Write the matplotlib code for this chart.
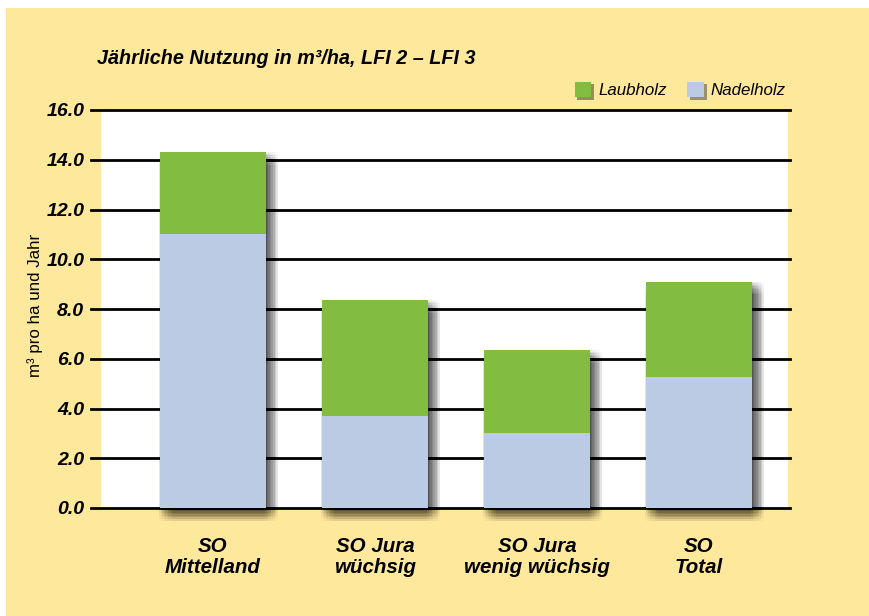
import numpy as np
import matplotlib.pyplot as plt
import matplotlib.patheffects as pe
from matplotlib.patches import Rectangle

plt.rcParams['font.family'] = ['Liberation Sans', 'DejaVu Sans']

# Werte (m3 pro ha und Jahr)
regionen = ['SO\nMittelland', 'SO Jura\nwüchsig', 'SO Jura\nwenig wüchsig', 'SO\nTotal']
nadelholz = [11.0, 3.7, 3.0, 5.25]
laubholz = [3.3, 4.65, 3.35, 3.85]
yticks = [0, 2, 4, 6, 8, 10, 12, 14, 16]

gruen = '#82BD41'
blau = '#BBCBE4'
gelb = '#FEE89B'

fig = plt.figure(figsize=(8.7, 6.16), dpi=100)
fig.patch.set_facecolor('white')
# gelber Hintergrund mit schmalem weissen Rand oben/links
fig.add_artist(Rectangle((6 / 870, 0), 1, 1 - 8 / 616, transform=fig.transFigure,
                         facecolor=gelb, edgecolor='none', zorder=-10))

ax = fig.add_axes([101 / 870, 1 - 508 / 616, 687 / 870, 398 / 616])
ax.set_facecolor('white')

x = np.arange(len(regionen))
breite = 0.655

# weicher Schatten aus vielen leicht versetzten Kopien
schatten = []
for dx in np.linspace(-4.5, 4.5, 9):
    for dy in np.linspace(-4.5, 4.5, 9):
        schatten.append(pe.SimplePatchShadow(offset=(4.0 + dx, -4.5 + dy),
                                             shadow_rgbFace='#000000', alpha=0.012, rho=0))
schatten.append(pe.Normal())

total = np.array(nadelholz) + np.array(laubholz)
ax.bar(x, total, breite, color=gruen, path_effects=schatten, clip_on=False, zorder=3)
ax.bar(x, laubholz, breite, bottom=nadelholz, color=gruen, label='Laubholz', zorder=4, clip_on=False)
ax.bar(x, nadelholz, breite, color=blau, label='Nadelholz', zorder=4, clip_on=False)

for t in yticks:
    ax.axhline(t, xmin=-10 / 687, xmax=1.003, color='black', lw=2, zorder=2, clip_on=False)

ax.set_xlim(-0.69, 3.55)
ax.set_ylim(0, 16)
ax.set_yticks(yticks)
ax.set_yticklabels(['%.1f' % t for t in yticks], fontsize=14, fontweight='bold', style='italic')
ax.set_xticks(x)
ax.set_xticklabels(regionen, fontsize=14.8, fontweight='bold', style='italic', linespacing=1.1)
ax.tick_params(axis='y', length=0, pad=12)
ax.tick_params(axis='x', length=0, pad=21)
for s in ax.spines.values():
    s.set_visible(False)

fig.text(35 / 870, 1 - 305 / 616, 'm³ pro ha und Jahr', fontsize=12.2, rotation=90,
         ha='center', va='center')

fig.text(97 / 870, 1 - 58 / 616, 'Jährliche Nutzung in m³/ha, LFI 2 – LFI 3',
         fontsize=14.2, fontweight='bold', style='italic', va='center')

leg = ax.legend(ncol=2, loc='lower right', bbox_to_anchor=(0.997, 1.03), frameon=False,
                prop={'style': 'italic', 'size': 12.2}, handlelength=1.0, handleheight=1.0,
                handletextpad=0.4, columnspacing=1.2, borderaxespad=0, borderpad=0)
for h in leg.legend_handles:
    h.set_path_effects([pe.SimplePatchShadow(offset=(2, -2), alpha=0.5), pe.Normal()])

fig.savefig('out.png', dpi=100, facecolor=fig.get_facecolor())
